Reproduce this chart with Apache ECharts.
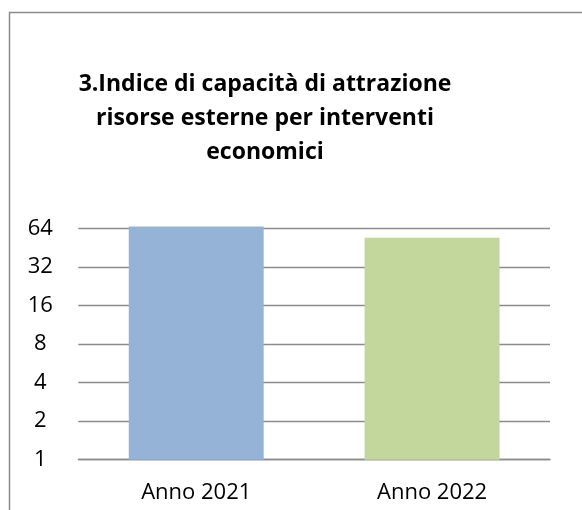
<!DOCTYPE html>
<html>
<head>
<meta charset="utf-8">
<script src="https://cdn.jsdelivr.net/npm/echarts@6/dist/echarts.min.js"></script>
<style>
html,body{margin:0;padding:0;background:#fff;}
#c{width:582px;height:510px;}
</style>
</head>
<body>
<div id="c"></div>
<script>
const categories = ["Anno 2021", "Anno 2022"];
const values = [66, 54];
const barColors = ["#95b3d7", "#c3d69b"];
const titleText = "3.Indice di capacità di attrazione\nrisorse esterne per interventi\neconomici";

const chart = echarts.init(document.getElementById('c'));
chart.setOption({
  animation: false,
  backgroundColor: '#fff',
  graphic: [{
    type: 'rect',
    shape: {x: 9.5, y: 12.5, width: 600, height: 600},
    style: {fill: 'none', stroke: '#8c8c8c', lineWidth: 1.5},
    silent: true
  }],
  title: {
    text: titleText,
    left: 260,
    top: 62,
    textAlign: 'center',
    textStyle: {
      fontFamily: 'Open Sans',
      fontWeight: 'bold',
      fontSize: 23,
      lineHeight: 34,
      color: '#000',
      align: 'center'
    }
  },
  grid: {left: 78.3, right: 32, top: 228.3, bottom: 50.3},
  xAxis: {
    type: 'category',
    data: categories,
    axisTick: {show: false},
    axisLine: {show: true, lineStyle: {color: '#8c8c8c', width: 1.3}},
    axisLabel: {fontFamily: 'Open Sans', fontSize: 22, color: '#000', margin: 22}
  },
  yAxis: {
    type: 'log',
    logBase: 2,
    min: 1,
    max: 64,
    interval: 1,
    axisLine: {show: false},
    axisTick: {show: false},
    splitLine: {lineStyle: {color: '#8c8c8c', width: 1.3}},
    axisLabel: {fontFamily: 'Open Sans', fontSize: 22, color: '#000', margin: 38, align: 'center'}
  },
  series: [{
    type: 'bar',
    clip: false,
    data: values.map((v, i) => ({value: v, itemStyle: {color: barColors[i]}})),
    barWidth: '57.2%'
  }]
});
</script>
</body>
</html>
